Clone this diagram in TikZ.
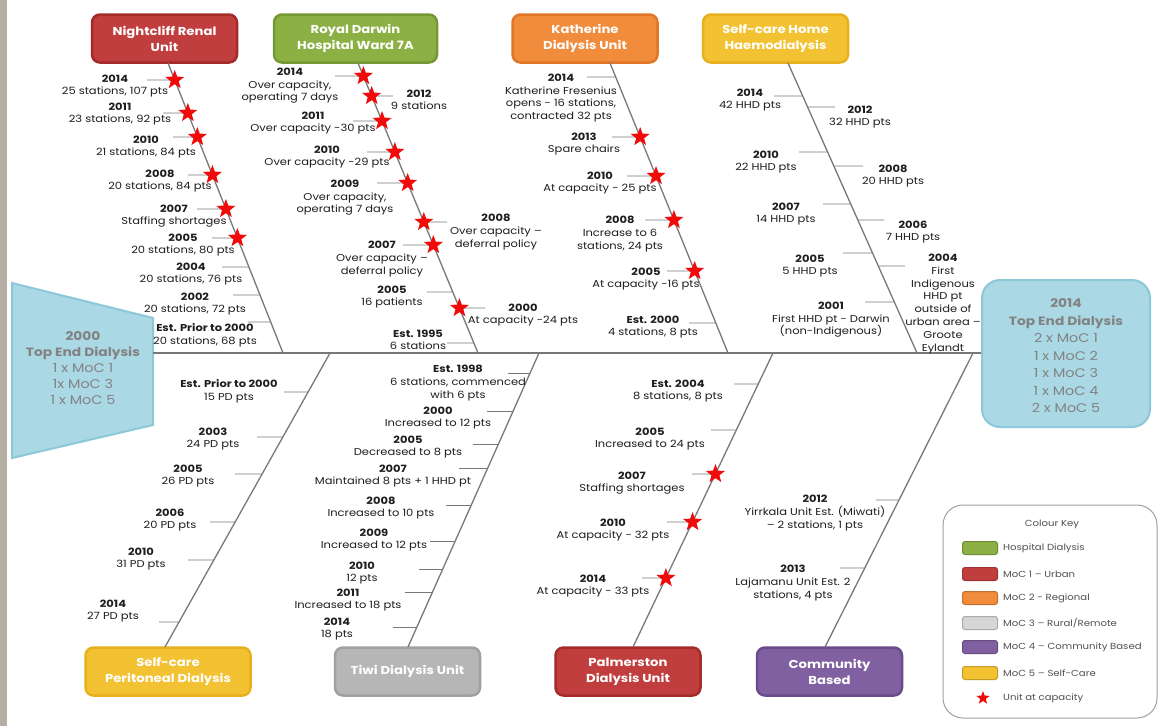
\documentclass[tikz,border=0pt]{standalone}
\usepackage{fontspec}
\setmainfont{Poppins}[FakeStretch=1.15]
\usetikzlibrary{shapes.geometric,calc}
\definecolor{cred}{RGB}{192,62,62}
\definecolor{credd}{RGB}{165,42,42}
\definecolor{cgreen}{RGB}{140,176,68}
\definecolor{cgreend}{RGB}{118,152,52}
\definecolor{corange}{RGB}{240,140,60}
\definecolor{coranged}{RGB}{226,118,40}
\definecolor{cyellow}{RGB}{242,194,50}
\definecolor{cyellowd}{RGB}{232,176,30}
\definecolor{cgray}{RGB}{182,182,182}
\definecolor{cgrayd}{RGB}{160,160,160}
\definecolor{cgraysw}{RGB}{214,214,214}
\definecolor{cpurple}{RGB}{128,96,160}
\definecolor{cpurpled}{RGB}{106,76,138}
\definecolor{lblue}{RGB}{170,216,228}
\definecolor{lblued}{RGB}{140,200,218}
\definecolor{bigtext}{RGB}{130,130,130}
\definecolor{bonec}{RGB}{120,120,120}
\definecolor{labc}{RGB}{30,30,30}
\definecolor{keyt}{RGB}{80,80,80}
\definecolor{stripc}{RGB}{182,174,162}
\definecolor{starred}{RGB}{240,10,10}
\newcommand\bonetick[4]{%
  \coordinate (tmp) at (intersection of #1a--#1b and 0,#2--1,#2);
  \draw[tickl] (tmp) -- (#3,#2);
  \ifnum#4=1 \node[capstar] at (tmp) {};\fi
}
\begin{document}
\begin{tikzpicture}[x=1pt,y=-1pt,
  unitbox/.style args={#1/#2}{fill=#1,draw=#2,line width=2.5pt,rounded corners=8pt,
    minimum width=145pt,minimum height=48pt,align=center,text=white,
    font=\fontsize{11.5}{16}\selectfont\bfseries,inner sep=0pt},
  lab/.style={align=center,font=\fontsize{10}{12.6}\selectfont,text=labc,inner sep=0pt},
  bonel/.style={draw=bonec,line width=1.3pt},
  tickl/.style={draw=bonec,line width=0.9pt},
  spine/.style={draw=bonec,line width=1.5pt},
  capstar/.style={star,star points=5,star point ratio=2.4,minimum size=20pt,inner sep=0pt,fill=starred,draw=none},
  keystar/.style={star,star points=5,star point ratio=2.4,minimum size=14pt,inner sep=0pt,fill=starred,draw=none},
  swatch/.style={fill=#1,draw=#1!80!black,line width=1pt,rounded corners=2.5pt,minimum width=35pt,minimum height=13pt,inner sep=0pt},
  keylab/.style={anchor=west,font=\fontsize{8.8}{10}\selectfont,text=keyt,inner sep=0pt},
  bigbox/.style={align=center,text=bigtext,inner sep=0pt}
]
\useasboundingbox (0,0) rectangle (1161,726);
\fill[white] (0,0) rectangle (1161,726);
\fill[stripc] (0,0) rectangle (7,726);

% ---------- top boxes
\node[unitbox={cred/credd}] (nc) at (164.5,38.5) {Nightcliff Renal\\Unit};
\node[unitbox={cgreen/cgreend},minimum width=163pt] (rd) at (355.5,38.5) {Royal Darwin\\Hospital Ward 7A};
\node[unitbox={corange/coranged}] (ka) at (585,38.5) {Katherine\\Dialysis Unit};
\node[unitbox={cyellow/cyellowd}] (hh) at (775.5,38.5) {Self-care Home\\Haemodialysis};
% ---------- bottom boxes
\node[unitbox={cyellow/cyellowd},minimum width=165pt] (pd) at (168,671.5) {Self-care\\Peritoneal Dialysis};
\node[unitbox={cgray/cgrayd}] (tw) at (407.5,671.5) {Tiwi Dialysis Unit};
\node[unitbox={cred/credd}] (pa) at (628,671.5) {Palmerston\\Dialysis Unit};
\node[unitbox={cpurple/cpurpled}] (cb) at (829.5,671.5) {Community\\Based};

% ---------- big left and right boxes
\filldraw[fill=lblue,draw=lblued,line width=2pt] (12,283) -- (153,318) -- (153,425) -- (12,458) -- cycle;
\node[bigbox,font=\fontsize{12.5}{16}\selectfont] (lb) at (83,368) {{\bfseries\fontsize{12}{16}\selectfont 2000}\\
  {\bfseries\fontsize{12}{16}\selectfont Top End Dialysis}\\
  1 x MoC 1\\ 1x MoC 3\\ 1 x MoC 5};
\node[fill=lblue,draw=lblued,line width=2pt,rounded corners=18pt,minimum width=168pt,minimum height=147pt] (rb) at (1066,353.5) {};
\node[bigbox,font=\fontsize{12.5}{17.5}\selectfont] (rbt) at (1066,356) {{\bfseries\fontsize{12}{16}\selectfont 2014}\\
  {\bfseries\fontsize{12}{16}\selectfont Top End Dialysis}\\
  2 x MoC 1\\ 1 x MoC 2\\ 1 x MoC 3\\ 1 x MoC 4\\ 2 x MoC 5};

% ---------- spine
\coordinate (spl) at (153,353);
\draw[spine] (spl) -- (rb.west |- spl);

% ---------- bones
\coordinate (nca) at (168,63);  \coordinate (ncb) at (283,353);
\coordinate (rda) at (358,63);  \coordinate (rdb) at (478,353);
\coordinate (kaa) at (610,63);  \coordinate (kab) at (728,353);
\coordinate (hha) at (788,63);  \coordinate (hhb) at (917,353);
\coordinate (pda) at (330,353); \coordinate (pdb) at (165,647);
\coordinate (twa) at (539,353); \coordinate (twb) at (408,647);
\coordinate (paa) at (773,353); \coordinate (pab) at (633,647);
\coordinate (cba) at (973,353); \coordinate (cbb) at (825,647);
\foreach \b in {nc,rd,ka,hh,pd,tw,pa,cb}{\draw[bonel] (\b a) -- (\b b);}

% ---------- Nightcliff
\foreach \y/\e/\s in {80/147/1,113/163/1,137/173/1,175/188/1,209/197/1,238/212/1,267/222/0,295/233/0,322/248/0}{\bonetick{nc}{\y}{\e}{\s}}
\node[lab] (nc1) at (115,86) {\textbf{2014}\\25 stations, 107 pts};
\node[lab] (nc2) at (120,114) {\textbf{2011}\\23 stations, 92 pts};
\node[lab] (nc3) at (146,147) {\textbf{2010}\\21 stations, 84 pts};
\node[lab] (nc4) at (160,181) {\textbf{2008}\\20 stations, 84 pts};
\node[lab] (nc5) at (174,216) {\textbf{2007}\\Staffing shortages};
\node[lab] (nc6) at (183,245) {\textbf{2005}\\20 stations, 80 pts};
\node[lab] (nc7) at (191,274) {\textbf{2004}\\20 stations, 76 pts};
\node[lab] (nc8) at (195,304) {\textbf{2002}\\20 stations, 72 pts};
\node[lab] (nc9) at (205,335) {\textbf{Est. Prior to 2000}\\20 stations, 68 pts};

% ---------- Royal Darwin
\foreach \y/\e/\s in {76/335/1,96/393/1,121/353/1,152/367/1,183/377/1,222/447/1,245/403/1,292/427/0,308/485/1,343/447/0}{\bonetick{rd}{\y}{\e}{\s}}
\node[lab] (rd1) at (290,86) {\textbf{2014}\\Over capacity,\\operating 7 days};
\node[lab] (rd2) at (419,100) {\textbf{2012}\\9 stations};
\node[lab] (rd3) at (313,123) {\textbf{2011}\\Over capacity -30 pts};
\node[lab] (rd4) at (327,157) {\textbf{2010}\\Over capacity -29 pts};
\node[lab] (rd5) at (345,198) {\textbf{2009}\\Over capacity,\\operating 7 days};
\node[lab] (rd6) at (496,232) {\textbf{2008}\\Over capacity –\\deferral policy};
\node[lab] (rd7) at (382,259) {\textbf{2007}\\Over capacity –\\deferral policy};
\node[lab] (rd8) at (392,297) {\textbf{2005}\\16 patients};
\node[lab] (rd9) at (523,315) {\textbf{2000}\\At capacity -24 pts};
\node[lab] (rd10) at (418,340) {\textbf{Est. 1995}\\6 stations};

% ---------- Katherine
\foreach \y/\e/\s in {77/587/0,137/612/1,176/627/1,220/645/1,271/667/1,323/689/0}{\bonetick{ka}{\y}{\e}{\s}}
\node[lab] (ka1) at (561,98) {\textbf{2014}\\Katherine Fresenius\\opens - 16 stations,\\contracted 32 pts};
\node[lab] (ka2) at (584,144) {\textbf{2013}\\Spare chairs};
\node[lab] (ka3) at (600,183) {\textbf{2010}\\At capacity - 25 pts};
\node[lab] (ka4) at (620,234) {\textbf{2008}\\Increase to 6\\stations, 24 pts};
\node[lab] (ka5) at (646,279) {\textbf{2005}\\At capacity -16 pts};
\node[lab] (ka6) at (653,327) {\textbf{Est. 2000}\\4 stations, 8 pts};

% ---------- Home haemodialysis
\foreach \y/\e in {96/774,107/835,152/799,166/863,204/823,220/884,253/843,266/905,302/865}{\bonetick{hh}{\y}{\e}{0}}
\node[lab] (hh1) at (750,100) {\textbf{2014}\\42 HHD pts};
\node[lab] (hh2) at (860,117) {\textbf{2012}\\32 HHD pts};
\node[lab] (hh3) at (766,162) {\textbf{2010}\\22 HHD pts};
\node[lab] (hh4) at (893,176) {\textbf{2008}\\20 HHD pts};
\node[lab] (hh5) at (786,214) {\textbf{2007}\\14 HHD pts};
\node[lab] (hh6) at (913,232) {\textbf{2006}\\7 HHD pts};
\node[lab] (hh7) at (810,266) {\textbf{2005}\\5 HHD pts};
\node[lab,font=\fontsize{10}{12.9}\selectfont] (hh8) at (943,304) {\textbf{2004}\\First\\Indigenous\\HHD pt\\outside of\\urban area –\\Groote\\Eylandt};
\node[lab] (hh9) at (831,320) {\textbf{2001}\\First HHD pt - Darwin\\(non-Indigenous)};

% ---------- Peritoneal
\foreach \y/\e in {392/284,437/257,474/235,522/210,560/188,622/159}{\bonetick{pd}{\y}{\e}{0}}
\node[lab] (pd1) at (229,391) {\textbf{Est. Prior to 2000}\\15 PD pts};
\node[lab] (pd2) at (213,439) {\textbf{2003}\\24 PD pts};
\node[lab] (pd3) at (188,476) {\textbf{2005}\\26 PD pts};
\node[lab] (pd4) at (170,520) {\textbf{2006}\\20 PD pts};
\node[lab] (pd5) at (141,559) {\textbf{2010}\\31 PD pts};
\node[lab] (pd6) at (113,611) {\textbf{2014}\\27 PD pts};

% ---------- Tiwi
\foreach \y/\e in {373/508,411/487,444/473,468/459,505/446,541/430,569/419,592/405,627/393}{\bonetick{tw}{\y}{\e}{0}}
\node[lab] (tw1) at (458,383) {\textbf{Est. 1998}\\6 stations, commenced\\with 6 pts};
\node[lab] (tw2) at (438,418) {\textbf{2000}\\Increased to 12 pts};
\node[lab] (tw3) at (408,447) {\textbf{2005}\\Decreased to 8 pts};
\node[lab] (tw4) at (393,476) {\textbf{2007}\\Maintained 8 pts + 1 HHD pt};
\node[lab] (tw5) at (381,508) {\textbf{2008}\\Increased to 10 pts};
\node[lab] (tw6) at (374,540) {\textbf{2009}\\Increased to 12 pts};
\node[lab] (tw7) at (362,573) {\textbf{2010}\\12 pts};
\node[lab] (tw8) at (348,600) {\textbf{2011}\\Increased to 18 pts};
\node[lab] (tw9) at (337,629) {\textbf{2014}\\18 pts};

% ---------- Palmerston
\foreach \y/\e/\s in {384/734/0,430/711/0,474/692/1,522/667/1,578/642/1}{\bonetick{pa}{\y}{\e}{\s}}
\node[lab] (pa1) at (678,391) {\textbf{Est. 2004}\\8 stations, 8 pts};
\node[lab] (pa2) at (650,439) {\textbf{2005}\\Increased to 24 pts};
\node[lab] (pa3) at (632,483) {\textbf{2007}\\Staffing shortages};
\node[lab] (pa4) at (613,530) {\textbf{2010}\\At capacity - 32 pts};
\node[lab] (pa5) at (593,586) {\textbf{2014}\\At capacity - 33 pts};

% ---------- Community
\foreach \y/\e in {500/876,568/840}{\bonetick{cb}{\y}{\e}{0}}
\node[lab] (cb1) at (815,513) {\textbf{2012}\\Yirrkala Unit Est. (Miwati)\\– 2 stations, 1 pts};
\node[lab] (cb2) at (793,583) {\textbf{2013}\\Lajamanu Unit Est. 2\\stations, 4 pts};

% ---------- colour key
\node[draw=cgrayd,line width=1pt,rounded corners=20pt,minimum width=214pt,minimum height=213pt,inner sep=0pt] (key) at (1050,611.5) {};
\node[font=\fontsize{8.8}{10}\selectfont,text=keyt,inner sep=0pt] (keyt) at (1052,524) {Colour Key};
\foreach \y/\c/\t [count=\i] in {548/cgreen/{Hospital Dialysis},574/cred/{MoC 1 – Urban},598/corange/{MoC 2 - Regional},623/cgraysw/{MoC 3 – Rural/Remote},647/cpurple/{MoC 4 – Community Based},673/cyellow/{MoC 5 – Self-Care}}{
  \node[swatch=\c] (sw\i) at (980,\y) {};
  \node[keylab] (kl\i) at (1003,\y) {\t};
}
\node[keystar] (ks) at (983,698) {};
\node[keylab] (kl7) at (1003,698) {Unit at capacity};
\end{tikzpicture}
\end{document}
